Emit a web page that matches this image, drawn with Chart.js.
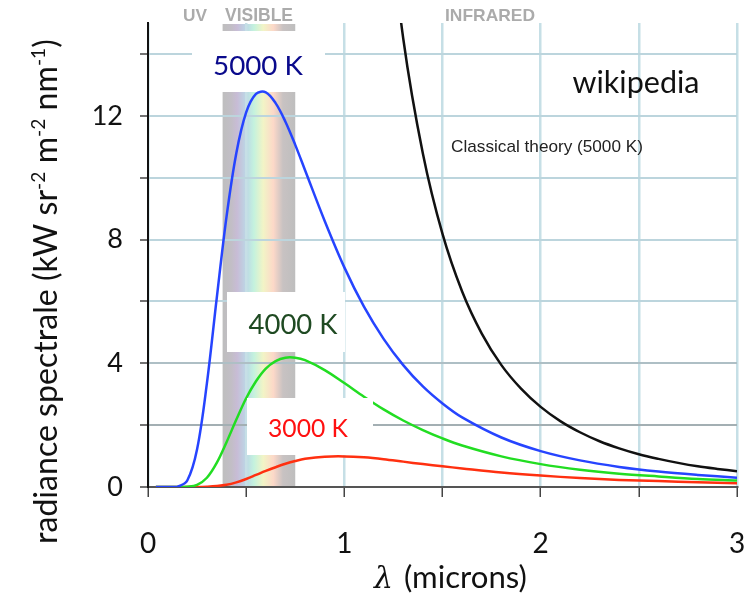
<!DOCTYPE html>
<html>
<head>
<meta charset="utf-8">
<script src="https://cdn.jsdelivr.net/npm/chart.js@4.4.1/dist/chart.umd.min.js"></script>
<style>
  html, body { margin: 0; padding: 0; background: #fff; }
  #wrap { width: 747px; height: 600px; }
</style>
</head>
<body>
<div id="wrap"><canvas id="grafico" width="747" height="600"></canvas></div>
<script>
// longueurs d'onde (microns)
const lambdas = [0.04, 0.1, 0.15, 0.2, 0.25, 0.3, 0.35, 0.4, 0.45, 0.5, 0.55, 0.6, 0.65, 0.7, 0.75, 0.8, 0.9, 1.0, 1.1, 1.2, 1.3, 1.4, 1.5, 1.6, 1.8, 2.0, 2.2, 2.4, 2.6, 2.8, 3.0];
// radiance (kW sr-1 m-2 nm-1)
const t5000 = [0, 0, 0.01, 0.21, 1.22, 3.35, 6.10, 8.74, 10.80, 12.11, 12.71, 12.76, 12.41, 11.81, 11.06, 10.24, 8.60, 7.10, 5.83, 4.79, 3.94, 3.25, 2.70, 2.25, 1.60, 1.16, 0.86, 0.65, 0.50, 0.39, 0.30];
const t4000 = [0, 0, 0, 0.01, 0.07, 0.30, 0.78, 1.45, 2.18, 2.87, 3.42, 3.83, 4.07, 4.18, 4.18, 4.10, 3.78, 3.36, 2.92, 2.51, 2.15, 1.84, 1.57, 1.34, 0.99, 0.74, 0.56, 0.43, 0.34, 0.26, 0.21];
const t3000 = [0, 0, 0, 0, 0, 0.01, 0.03, 0.07, 0.15, 0.26, 0.39, 0.52, 0.64, 0.75, 0.84, 0.91, 0.98, 0.99, 0.96, 0.90, 0.82, 0.74, 0.67, 0.60, 0.47, 0.37, 0.29, 0.23, 0.19, 0.15, 0.12];
// theorie classique (5000 K)
const lambdasClassique = [1.2, 1.3, 1.4, 1.5, 1.6, 1.7, 1.8, 1.9, 2.0, 2.1, 2.2, 2.3, 2.4, 2.5, 2.6, 2.7, 2.8, 2.9, 3.0];
const classique = [19.97, 14.50, 10.78, 8.18, 6.32, 4.96, 3.94, 3.18, 2.59, 2.13, 1.77, 1.48, 1.25, 1.06, 0.91, 0.78, 0.67, 0.585, 0.51];

const visible = [0.38, 0.75];
const ticksY = [0, 4, 8, 12];
const ticksX = [0, 1, 2, 3];

const FONT = "Lato, 'Open Sans', sans-serif";

function pts(xs, ys) {
  return xs.map((x, i) => ({ x: x, y: ys[i] }));
}

function taille(ctx, texte, poids, famille, largeur) {
  ctx.font = poids + " 100px " + famille;
  return 100 * largeur / ctx.measureText(texte).width;
}

function boite(ctx, x0, y0, x1, y1) {
  ctx.fillStyle = "#fff";
  ctx.fillRect(x0, y0, x1 - x0, y1 - y0);
}

function etiquette(ctx, texte, cx, cy, largeur, couleur, poids, famille) {
  const s = taille(ctx, texte, poids, famille, largeur);
  ctx.font = poids + " " + s + "px " + famille;
  ctx.fillStyle = couleur;
  ctx.textAlign = "center";
  ctx.textBaseline = "middle";
  ctx.fillText(texte, cx, cy);
}

function sansMarge(scale) {
  scale.paddingTop = 0;
  scale.paddingBottom = 0;
  scale.paddingLeft = 0;
  scale.paddingRight = 0;
}

const decor = {
  id: "decor",
  beforeDraw(chart) {
    const ctx = chart.ctx;
    const x = chart.scales.x;
    const a = chart.chartArea;
    const x0 = x.getPixelForValue(visible[0]);
    const x1 = x.getPixelForValue(visible[1]);
    const g = ctx.createLinearGradient(x0, 0, x1, 0);
    g.addColorStop(0, "#bebebe");
    g.addColorStop(0.12, "#c2bec6");
    g.addColorStop(0.2, "#c8bcd6");
    g.addColorStop(0.32, "#bcd6e6");
    g.addColorStop(0.43, "#c4f2de");
    g.addColorStop(0.56, "#f2f4c6");
    g.addColorStop(0.7, "#fcd8c8");
    g.addColorStop(0.83, "#c8c2c2");
    g.addColorStop(1, "#bebebe");
    ctx.save();
    ctx.fillStyle = g;
    ctx.fillRect(x0, a.top + 1, x1 - x0, a.bottom - a.top - 1);
    ctx.restore();
  },
  beforeDatasetsDraw(chart) {
    const ctx = chart.ctx;
    ctx.save();
    boite(ctx, 192, 31, 325, 92);
    boite(ctx, 227, 292, 345, 352);
    ctx.restore();
  },
  afterDatasetsDraw(chart) {
    const ctx = chart.ctx;
    ctx.save();
    boite(ctx, 247, 398, 373, 455);

    etiquette(ctx, "UV", 195, 16, 24, "#ababab", "bold", "'Liberation Sans', Arial, sans-serif");
    etiquette(ctx, "VISIBLE", 259, 16, 68, "#ababab", "bold", "'Liberation Sans', Arial, sans-serif");
    etiquette(ctx, "INFRARED", 490, 16, 90, "#ababab", "bold", "'Liberation Sans', Arial, sans-serif");

    etiquette(ctx, "5000 K", 258, 66, 90, "#0a0a8c", "normal", FONT);
    etiquette(ctx, "4000 K", 293, 325, 89, "#1f4a22", "normal", FONT);
    etiquette(ctx, "3000 K", 308, 429, 80, "#ff1010", "normal", FONT);

    etiquette(ctx, "wikipedia", 636, 83, 127, "#111", "normal", FONT);
    etiquette(ctx, "Classical theory (5000 K)", 547, 147, 192, "#222", "normal", "'Liberation Sans', Arial, sans-serif");

    // titre axe Y avec exposants
    const morceaux = [
      ["radiance spectrale (kW sr", false], ["-2", true], [" m", false], ["-2", true],
      [" nm", false], ["-1", true], [")", false]
    ];
    let total = 0;
    morceaux.forEach(m => {
      ctx.font = (m[1] ? 60 : 100) + "px " + FONT;
      total += ctx.measureText(m[0]).width;
    });
    const s = 100 * 505 / total;
    ctx.translate(57, 292);
    ctx.rotate(-Math.PI / 2);
    ctx.fillStyle = "#111";
    ctx.textAlign = "left";
    ctx.textBaseline = "alphabetic";
    let px = -252;
    morceaux.forEach(m => {
      const f = m[1] ? s * 0.6 : s;
      ctx.font = f + "px " + FONT;
      ctx.fillText(m[0], px, m[1] ? -s * 0.36 : 0);
      px += ctx.measureText(m[0]).width;
    });
    ctx.restore();

    // titre axe X
    ctx.save();
    ctx.fillStyle = "#111";
    ctx.textBaseline = "alphabetic";
    ctx.textAlign = "left";
    ctx.font = "italic 30px 'DejaVu Serif', serif";
    ctx.fillText("\u03bb", 374, 588);
    ctx.font = "28px " + FONT;
    const w = ctx.measureText("(microns)").width;
    const s2 = 28 * 123 / w;
    ctx.font = s2 + "px " + FONT;
    ctx.fillText("(microns)", 404, 588);
    ctx.restore();
  }
};

const ctx = document.getElementById("grafico").getContext("2d");

new Chart(ctx, {
  type: "line",
  data: {
    datasets: [
      { label: "Classique", data: pts(lambdasClassique, classique), borderColor: "#111111", borderWidth: 2.5 },
      { label: "5000 K", data: pts(lambdas, t5000), borderColor: "#2644ff", borderWidth: 2.5 },
      { label: "4000 K", data: pts(lambdas, t4000), borderColor: "#22dd22", borderWidth: 2.5 },
      { label: "3000 K", data: pts(lambdas, t3000), borderColor: "#ff3010", borderWidth: 2.5 }
    ]
  },
  options: {
    responsive: false,
    animation: false,
    devicePixelRatio: 1,
    layout: { padding: { top: 23, right: 10, left: 0, bottom: 0 } },
    elements: {
      point: { radius: 0 },
      line: { tension: 0.35, fill: false }
    },
    plugins: { legend: { display: false }, tooltip: { enabled: false } },
    scales: {
      x: {
        type: "linear",
        min: 0,
        max: 3,
        afterFit(scale) { scale.height = 113; sansMarge(scale); },
        border: { color: "#555", width: 2 },
        grid: { color: "#c6dfe6", lineWidth: 2.5, tickColor: "#444", tickLength: 10, tickWidth: 1.5 },
        ticks: {
          stepSize: 0.5,
          autoSkip: false,
          maxRotation: 0,
          padding: 30,
          color: "#111",
          font: { family: FONT, size: 28 },
          callback: v => ticksX.includes(v) ? String(v) : ""
        }
      },
      y: {
        type: "linear",
        min: 0,
        max: 15,
        afterFit(scale) { scale.width = 148; sansMarge(scale); },
        border: { color: "#111", width: 2 },
        grid: {
          color: c => c.tick && c.tick.value === 2 ? "#a3afb3" : (c.tick && c.tick.value === 4 ? "#aebfc5" : "#bcd5dd"),
          lineWidth: 2,
          tickColor: "#444",
          tickLength: 8,
          tickWidth: 1.5
        },
        ticks: {
          stepSize: 2,
          includeBounds: false,
          padding: 17,
          color: "#111",
          font: { family: FONT, size: 27 },
          callback: v => ticksY.includes(v) ? String(v) : ""
        }
      }
    }
  },
  plugins: [decor]
});
</script>
</body>
</html>
